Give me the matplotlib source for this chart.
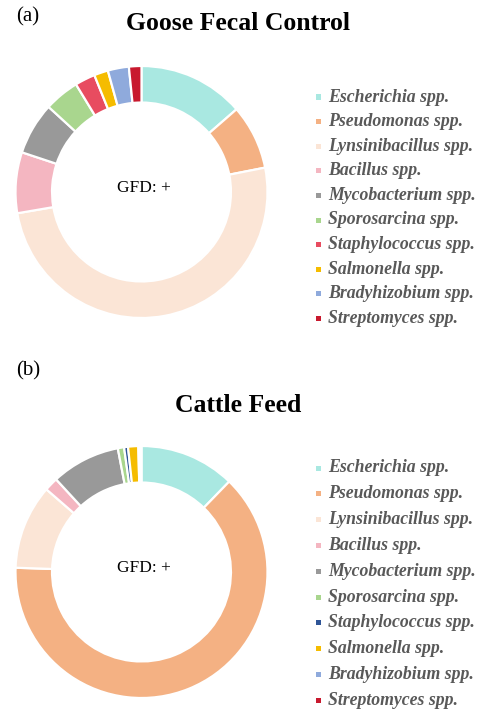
import matplotlib
matplotlib.use("Agg")
import matplotlib.pyplot as plt
from matplotlib.patches import Rectangle

plt.rcParams['font.family'] = ['Liberation Serif', 'DejaVu Serif']

genera = ["Escherichia spp.", "Pseudomonas spp.", "Lynsinibacillus spp.", "Bacillus spp.",
          "Mycobacterium spp.", "Sporosarcina spp.", "Staphylococcus spp.", "Salmonella spp.",
          "Bradyhizobium spp.", "Streptomyces spp."]
goose_values = [13.6, 8.3, 50.4, 7.8, 6.7, 4.5, 2.6, 1.8, 2.7, 1.6]
cattle_values = [12.2, 63.0, 10.8, 1.75, 8.8, 0.8, 0.5, 1.3, 0.2, 0.2]

colors_a = ["#A9E8E1", "#F4B183", "#FBE5D6", "#F4B6C1", "#999999", "#A9D68E",
            "#E84C60", "#F5BC00", "#8FAADC", "#C8192E"]
colors_b = ["#A9E8E1", "#F4B183", "#FBE5D6", "#F4B6C1", "#999999", "#A9D68E",
            "#2F5597", "#F5BC00", "#8FAADC", "#C8192E"]

titles = ["Goose Fecal Control", "Cattle Feed"]
panel_labels = ["(a)", "(b)"]
center_text = "GFD: +"

W, H = 483, 713
fig = plt.figure(figsize=(W / 100, H / 100), dpi=100)

def px_axes(cx, cy, r):
    return fig.add_axes([(cx - r) / W, (H - cy - r) / H, 2 * r / W, 2 * r / H])

panels = [
    dict(values=goose_values, colors=colors_a, cy=192, title_y=24, lab_y=17,
         leg_y0=97, leg_dy=24.6),
    dict(values=cattle_values, colors=colors_b, cy=572, title_y=405, lab_y=371,
         leg_y0=468, leg_dy=25.8),
]

for i, p in enumerate(panels):
    ax = px_axes(141.5, p["cy"], 126)
    ax.pie(p["values"], colors=p["colors"], startangle=90, counterclock=False,
           radius=1, wedgeprops=dict(width=0.29, edgecolor="white", linewidth=1.6))
    ax.set_xlim(-1, 1)
    ax.set_ylim(-1, 1)
    ax.set_aspect("equal")
    ax.axis("off")
    ax.text(0.02, 0.035, center_text, ha="center", va="center", fontsize=12.5, color="black")

    fig.text(238 / W, 1 - p["title_y"] / H, titles[i], ha="center", va="center",
             fontsize=18.5, fontweight="bold", color="black")
    fig.text(16 / W, 1 - p["lab_y"] / H, panel_labels[i], ha="left", va="center",
             fontsize=15, color="black")

    for k, name in enumerate(genera):
        y = p["leg_y0"] + k * p["leg_dy"]
        fig.add_artist(Rectangle(((316) / W, 1 - (y + 2.5) / H), 5 / W, 5 / H,
                                 transform=fig.transFigure, color=p["colors"][k], lw=0))
        fig.text(328 / W, 1 - y / H, name, ha="left", va="center", fontsize=12.8,
                 fontweight="bold", fontstyle="italic", color="#595959")

fig.savefig("out.png", dpi=100)
